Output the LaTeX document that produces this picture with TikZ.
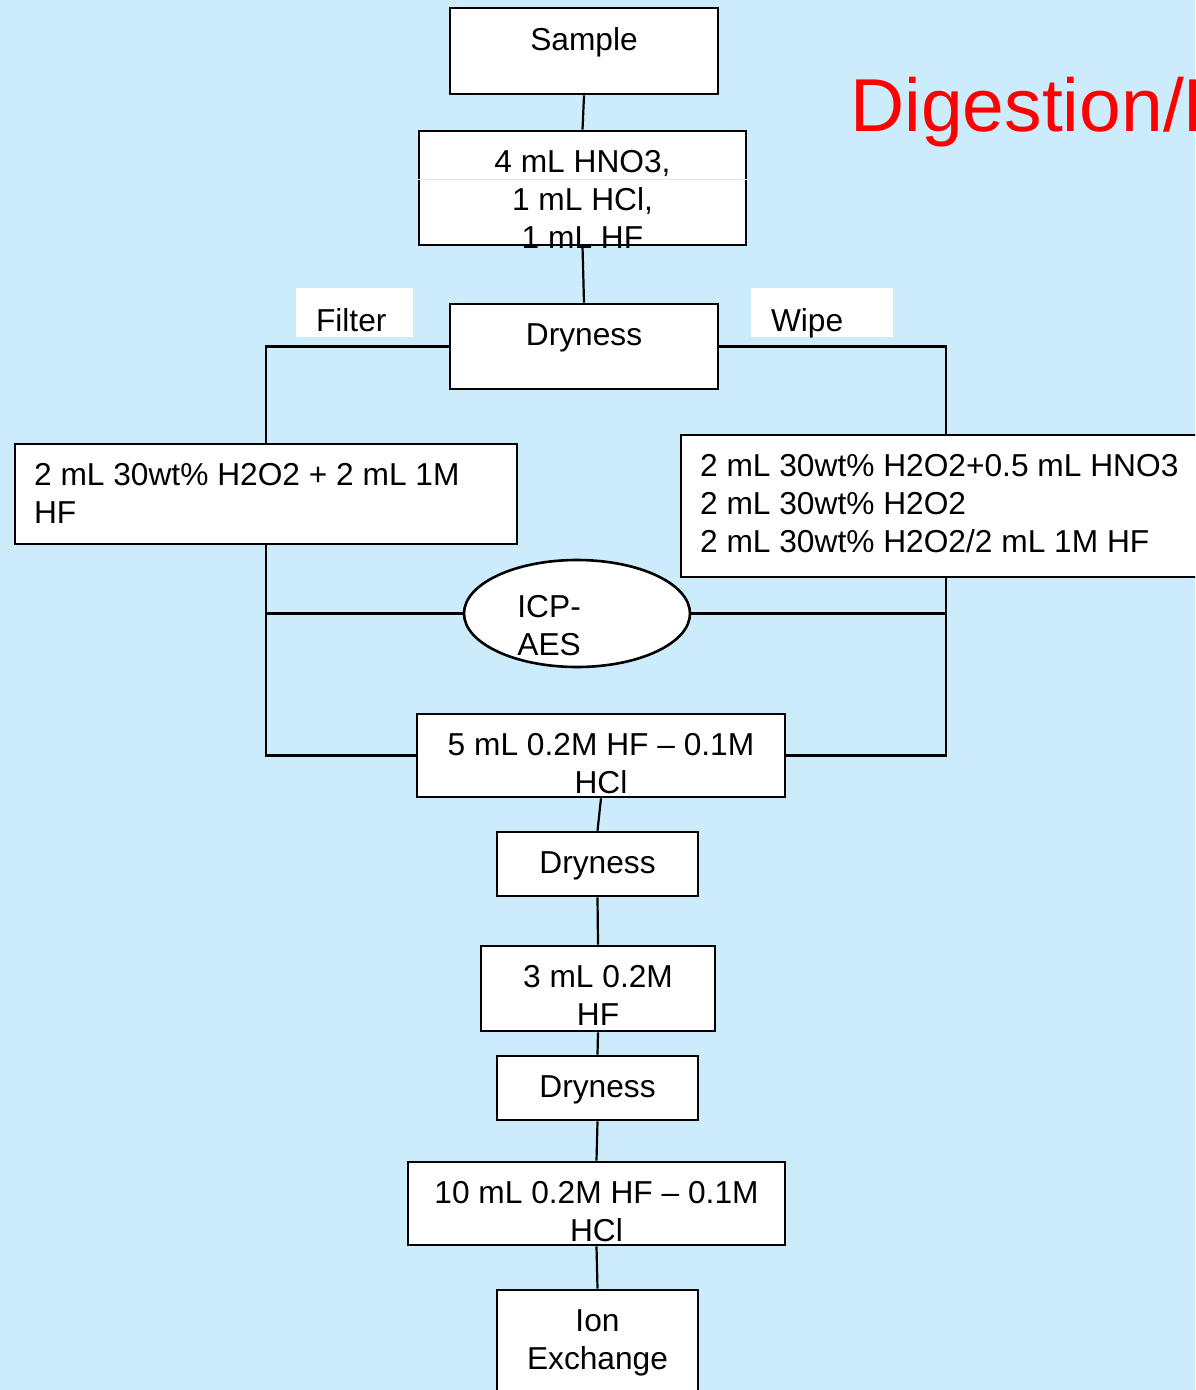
\documentclass[tikz,border=0pt]{standalone}
\usepackage{fontspec}
\setmainfont{Liberation Sans}
\usetikzlibrary{shapes.geometric}
\definecolor{slidebg}{RGB}{204,236,252}
\definecolor{titlered}{RGB}{255,0,0}
\definecolor{faintrule}{RGB}{214,232,242}
\newcommand\boxfont{\fontsize{15.85}{19}\selectfont}
\begin{document}
\begin{tikzpicture}[x=0.5pt,y=-0.5pt,
   stepbox/.style={draw,fill=white,line width=1.3pt,inner sep=0pt},
   tagbox/.style={fill=white,inner sep=0pt},
   txt/.style={font=\boxfont,inner sep=0pt},
   ctext/.style={label={[txt,align=center,anchor=north,yshift=-10.3pt]north:#1}},
   ltext/.style={label={[txt,align=left,anchor=north west,xshift=10pt,yshift=-10.3pt]north west:#1}},
   link/.style={line width=1.1pt}]
   \clip (0,0) rectangle (1195,1390);
   \fill[slidebg] (0,0) rectangle (1195,1390);
   \node[font=\fontsize{37.5}{45}\selectfont,text=titlered,anchor=base west,inner sep=0pt] (title) at (850,132) {Digestion/P};
   % main column
   \node[stepbox,minimum width=134pt,minimum height=43pt,ctext=Sample] (sample) at (584,51) {};
   \node[stepbox,minimum width=163.5pt,minimum height=57pt,ctext={4 mL HNO3,\\1 mL HCl,\\1 mL HF}] (acids) at (582.5,188) {};
   \draw[line width=0.6pt,faintrule] ([yshift=-25pt]acids.north west) -- ([yshift=-25pt]acids.north east);
   \node[stepbox,minimum width=134pt,minimum height=42.5pt,ctext=Dryness] (dry1) at (584,346.5) {};
   \node[tagbox,minimum width=58.5pt,minimum height=24.5pt,ltext=Filter] (filtertag) at (354.5,312.5) {};
   \node[tagbox,minimum width=71pt,minimum height=24.5pt,ltext=Wipe] (wipetag) at (822,312.5) {};
   % two branches
   \node[stepbox,minimum width=251pt,minimum height=50pt,ltext={2 mL 30wt\% H2O2 + 2 mL 1M\\HF}] (filt) at (266,494) {};
   \node[stepbox,minimum width=265pt,minimum height=71pt,ltext={2 mL 30wt\% H2O2+0.5 mL HNO3\\2 mL 30wt\% H2O2\\2 mL 30wt\% H2O2/2 mL 1M HF}] (wipe) at (946,506) {};
   \node[stepbox,ellipse,minimum width=113pt,minimum height=53.5pt,
         label={[txt,align=left,anchor=north west,xshift=-30pt,yshift=-18.3pt]north:ICP-\\AES}] (icp) at (577,613.5) {};
   % after the branches
   \node[stepbox,minimum width=184pt,minimum height=41.5pt,ctext={5 mL 0.2M HF \textendash{} 0.1M\\HCl}] (hf5) at (601,755.5) {};
   \node[stepbox,minimum width=100.5pt,minimum height=32pt,ctext=Dryness] (dry2) at (597.5,864) {};
   \node[stepbox,minimum width=117pt,minimum height=42.5pt,ctext={3 mL 0.2M\\HF}] (hf3) at (598,988.5) {};
   \node[stepbox,minimum width=100.5pt,minimum height=32pt,ctext=Dryness] (dry3) at (597.5,1088) {};
   \node[stepbox,minimum width=188.5pt,minimum height=41.5pt,ctext={10 mL 0.2M HF \textendash{} 0.1M\\HCl}] (hf10) at (596.5,1203.5) {};
   \node[stepbox,minimum width=100.5pt,minimum height=60pt,ctext={Ion\\Exchange}] (ionx) at (597.5,1350) {};
   % connectors
   \foreach \a/\b in {sample/acids,acids/dry1,hf5/dry2,dry2/hf3,hf3/dry3,dry3/hf10,hf10/ionx}
     \draw[link] (\a.south) -- (\b.north);
   \draw[link] (dry1.west) -| (filt.north);
   \draw[link] (dry1.east) -| (wipe.north);
   \draw[link] (filt.south) |- (hf5.west);
   \draw[link] (wipe.south) |- (hf5.east);
   \draw[link] (icp.west) -- (icp.west -| filt.south);
   \draw[link] (icp.east) -- (icp.east -| wipe.south);
\end{tikzpicture}
\end{document}
